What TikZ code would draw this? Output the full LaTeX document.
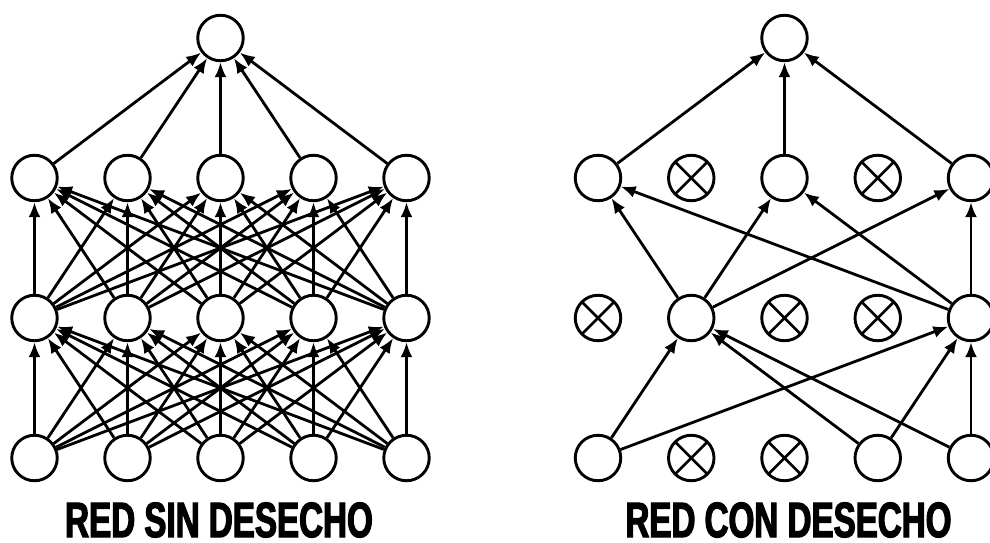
\documentclass[tikz,border=0pt]{standalone}
\usepackage{fontspec}
\newfontfamily\labfont{Liberation Sans}[FakeStretch=0.67,BoldFeatures={FakeBold=2.5}]
\usetikzlibrary{arrows.meta}
\begin{document}
\begin{tikzpicture}[x=1pt,y=-1pt,
  unit/.style={circle,draw,line width=2.9pt,minimum size=45.5pt,inner sep=0pt,fill=white},
  dropped/.style={unit,path picture={
      \draw[line width=2.8pt]
        (path picture bounding box.north west) -- (path picture bounding box.south east)
        (path picture bounding box.north east) -- (path picture bounding box.south west);}},
  link/.style={line width=2.8pt,-{Latex[length=15pt,width=12pt]}},
  caption/.style={inner sep=0pt,anchor=center,font=\labfont\bfseries\fontsize{49.5}{50}\selectfont}]
\useasboundingbox (0,0) rectangle (990,543);
\clip (0,0) rectangle (990,543);

% ---------- standard network: fully connected ----------
\node[unit] (ao) at (220.5,38) {};
\foreach \i in {1,...,5} {
  \pgfmathsetmacro\xx{34.5+93*(\i-1)}
  \node[unit] (ai\i) at (\xx,458) {};
  \node[unit] (ah\i) at (\xx,318) {};
  \node[unit] (ag\i) at (\xx,178) {};
}
\foreach \i in {1,...,5} {
  \foreach \j in {1,...,5} {
    \draw[link] (ai\i) -- (ah\j);
    \draw[link] (ah\i) -- (ag\j);
  }
  \draw[link] (ag\i) -- (ao);
}
\node[caption] (capa) at (219,520) {RED SIN DESECHO};

% ---------- thinned network: dropped units crossed out ----------
\node[unit]    (bo)  at (784.5,38) {};

\node[unit]    (bg1) at (598,178) {};
\node[dropped] (bg2) at (691.25,178) {};
\node[unit]    (bg3) at (784.5,178) {};
\node[dropped] (bg4) at (877.75,178) {};
\node[unit]    (bg5) at (971,178) {};

\node[dropped] (bh1) at (598,318) {};
\node[unit]    (bh2) at (691.25,318) {};
\node[dropped] (bh3) at (784.5,318) {};
\node[dropped] (bh4) at (877.75,318) {};
\node[unit]    (bh5) at (971,318) {};

\node[unit]    (bi1) at (598,458) {};
\node[dropped] (bi2) at (691.25,458) {};
\node[dropped] (bi3) at (784.5,458) {};
\node[unit]    (bi4) at (877.75,458) {};
\node[unit]    (bi5) at (971,458) {};

\foreach \s in {bi1,bi4,bi5} {
  \draw[link] (\s) -- (bh2);
  \draw[link] (\s) -- (bh5);
}
\foreach \s in {bh2,bh5} {
  \draw[link] (\s) -- (bg1);
  \draw[link] (\s) -- (bg3);
  \draw[link] (\s) -- (bg5);
}
\foreach \s in {bg1,bg3,bg5} {
  \draw[link] (\s) -- (bo);
}
\node[caption] (capb) at (788.5,520) {RED CON DESECHO};
\end{tikzpicture}
\end{document}
